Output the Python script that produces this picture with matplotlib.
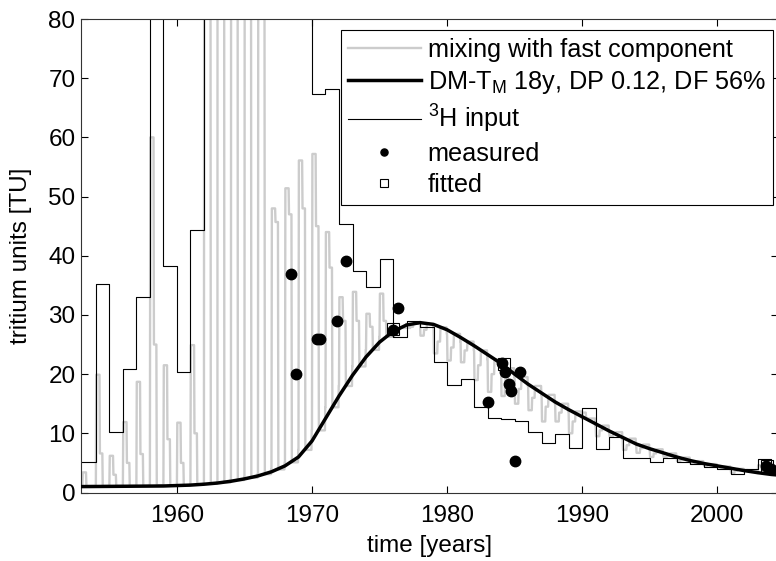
import numpy as np
import matplotlib
matplotlib.use('Agg')
import matplotlib.pyplot as plt

plt.rcParams['font.family'] = ['Liberation Sans', 'DejaVu Sans']
plt.rcParams['mathtext.fontset'] = 'custom'
plt.rcParams['mathtext.rm'] = 'Liberation Sans'
plt.rcParams['mathtext.it'] = 'Liberation Sans:italic'

# annual 3H input (TU), values above 80 are off the chart
years = list(range(1953, 2005))
input_tu = [5.2, 35.2, 10.3, 20.8, 33.1, 130, 38.3, 20.3, 44.3, 150,
            600, 400, 200, 130, 100, 90, 85, 67.4, 68.2, 45.4,
            37.4, 34.8, 39.5, 26.3, 29.0, 27.9, 22.0, 18.1, 19.1, 14.4,
            12.6, 12.4, 12.1, 10.3, 8.3, 9.8, 7.6, 14.3, 7.3, 9.4,
            5.9, 5.9, 5.2, 5.9, 5.2, 4.75, 4.3, 4.0, 3.1, 4.0,
            5.6, 4.0]

# mixing with fast component: per year base, seasonal peak, shoulder
gray_base = [1.1, 1.1, 1.1, 1.1, 1.1, 1.2, 1.2, 1.2, 1.3, 1.5,
             1.7, 2.1, 2.5, 3.1, 3.9, 5.1, 7.2, 10.5, 14.4, 18.0,
             21.3, 24.1, 26.3, 27.8, 28.5, 28.5, 27.9, 26.8, 25.5, 24.0,
             22.5, 21.0, 19.5, 18.0, 16.5, 15.0, 13.7, 12.5, 11.3, 10.2,
             9.1, 8.1, 7.3, 6.6, 5.9, 5.3, 4.8, 4.4, 4.0, 3.6,
             3.3, 3.0]
gray_peak = [3.4, 19.9, 6.2, 11.9, 18.7, 60, 21.5, 11.8, 24.9, 150,
             400, 250, 150, 120, 48, 51.4, 56.1, 57.2, 44.0, 33.0,
             33.9, 30.2, 33.6, 27.0, 27.8, 26.5, 23.5, 22.3, 22.0, 19.0,
             17.0, 16.3, 15.0, 13.9, 12.0, 12.0, 10.0, 13.5, 9.5, 9.5,
             7.2, 6.7, 6.0, 6.0, 5.3, 4.9, 4.5, 4.2, 3.3, 3.8,
             4.6, 4.5]
gray_shoulder = [1.1, 6.6, 3.0, 5.0, 6.5, 25, 9.0, 5.0, 10.0, 120,
                 300, 200, 120, 100, 45.7, 47.0, 48.0, 45.0, 38.0, 29.0,
                 29.0, 28.0, 29.0, 27.5, 28.0, 27.5, 25.5, 24.5, 24.0, 21.5,
                 20.0, 19.0, 17.5, 16.0, 14.5, 13.5, 12.0, 12.5, 10.5, 10.0,
                 8.0, 7.5, 6.6, 6.2, 5.6, 5.1, 4.7, 4.3, 3.7, 3.7,
                 4.0, 3.5]

# DM model curve
dm_year = [1953, 1956, 1959, 1961, 1962, 1963, 1964, 1965, 1966, 1967,
           1968, 1969, 1970, 1971, 1972, 1973, 1974, 1975, 1976, 1977,
           1978, 1979, 1980, 1981, 1982, 1983, 1984, 1985, 1986, 1987,
           1988, 1989, 1990, 1991, 1992, 1993, 1994, 1995, 1996, 1997,
           1998, 1999, 2000, 2001, 2002, 2003, 2004, 2004.5]
dm_tu = [1.0, 1.05, 1.1, 1.25, 1.4, 1.6, 1.9, 2.3, 2.8, 3.5,
         4.5, 6.0, 8.7, 12.5, 16.3, 19.8, 22.9, 25.4, 27.2, 28.3,
         28.7, 28.4, 27.5, 26.2, 24.8, 23.3, 21.8, 20.0, 18.3, 16.8,
         15.3, 14.0, 12.8, 11.6, 10.4, 9.3, 8.2, 7.4, 6.7, 6.0,
         5.4, 4.9, 4.5, 4.1, 3.7, 3.35, 3.05, 2.95]

# measured samples
meas_year = [1968.45, 1968.8, 1970.35, 1970.6, 1971.85, 1972.5, 1976.0, 1976.35,
             1983.0, 1984.1, 1984.3, 1984.6, 1984.7, 1985.0, 1985.4, 2003.6, 2003.95]
meas_tu = [37.0, 20.0, 26.0, 26.0, 29.0, 39.1, 27.5, 31.2,
           15.3, 21.8, 20.4, 18.3, 17.1, 5.3, 20.4, 4.4, 3.9]

# fitted samples
fit_year = [1976.0, 1984.2, 2003.7]
fit_tu = [27.6, 21.7, 4.5]

# seasonal shape within one year (fraction of year)
season_t = [-0.02, 0.0, 0.03, 0.27, 0.30, 0.48, 0.51, 0.96]

gx, gy = [], []
for y, b, p, s in zip(years, gray_base, gray_peak, gray_shoulder):
    for off, v in zip(season_t, [b, b, p, p, s, s, b, b]):
        gx.append(y + off)
        gy.append(v)

fs = 17.5
fig = plt.figure(figsize=(7.76, 5.61), dpi=100)
ax = fig.add_axes([81 / 776, 1 - 492.5 / 561, 697 / 776, 473.5 / 561])

ax.plot(gx, gy, color='#cccccc', linewidth=1.7, zorder=1)
ax.step(years + [2005], input_tu + [input_tu[-1]], where='post', color='black',
        linewidth=0.8, zorder=2)
ax.plot(dm_year, dm_tu, color='black', linewidth=2.5, zorder=3)
ax.plot([], [], color='black', linewidth=0.8)
ax.plot(meas_year, meas_tu, 'o', color='black', markersize=7.5, zorder=4)
ax.plot(fit_year, fit_tu, 's', markerfacecolor='none', markeredgecolor='black',
        markersize=8.5, markeredgewidth=0.8, zorder=4)

h = ax.get_lines()
labels = ['mixing with fast component',
          r'DM-T$_{\mathregular{M}}$ 18y, DP 0.12, DF 56%',
          r'$^{\mathregular{3}}$H input',
          'measured', 'fitted']
leg = ax.legend([h[0], h[2], h[3], h[4], h[5]], labels, loc='upper right',
                bbox_to_anchor=(773.3 / 776, 1 - 30 / 561), bbox_transform=fig.transFigure,
                borderaxespad=0, fontsize=18.2, frameon=True, fancybox=False,
                edgecolor='black', framealpha=1, handlelength=2.86, handletextpad=0.28,
                labelspacing=0.28, borderpad=0.3, markerscale=0.68)
leg.get_frame().set_linewidth(0.8)

ax.set_xlim(1952.9, 2004.5)
ax.set_ylim(0, 80)
ax.set_xticks([1960, 1970, 1980, 1990, 2000])
ax.set_yticks(range(0, 81, 10))
ax.tick_params(direction='in', top=True, right=True, length=4.8, width=0.8,
               labelsize=fs)
ax.tick_params(axis='x', pad=9)
ax.tick_params(axis='y', pad=4)
for sp in ax.spines.values():
    sp.set_linewidth(0.8)
    sp.set_color('#333333')
ax.spines['right'].set_visible(False)

ax.set_xlabel('time [years]', fontsize=fs, labelpad=6)
ax.set_ylabel('tritium units [TU]', fontsize=fs, labelpad=12)

fig.savefig('out.png', dpi=100)
plt.close()
